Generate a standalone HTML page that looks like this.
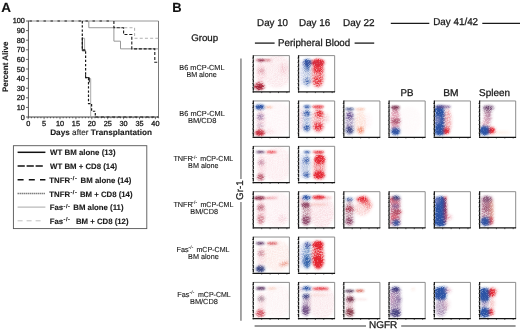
<!DOCTYPE html>
<html><head><meta charset="utf-8"><style>
html,body{margin:0;padding:0;background:#fff;}
svg{display:block;font-family:"Liberation Sans", sans-serif;text-rendering:geometricPrecision;}
text{stroke:#1a1a1a;stroke-width:0.28px;}
text[font-weight=bold]{stroke-width:0.12px;}
text[font-size="7.3"]{stroke-width:0.12px;}
</style></head><body>
<svg width="520" height="331" viewBox="0 0 520 331">
<defs><filter id="bl" x="-20%" y="-20%" width="140%" height="140%" color-interpolation-filters="sRGB">
<feGaussianBlur in="SourceGraphic" stdDeviation="1.5" result="b"/>
<feTurbulence type="fractalNoise" baseFrequency="0.83 0.97" numOctaves="2" seed="11" result="n0"/>
<feColorMatrix in="n0" type="matrix" values="0 0 0 0 0  0 0 0 0 0  0 0 0 0 0  2.2 0 0 0 -0.6" result="n"/>
<feComposite in="b" in2="n" operator="arithmetic" k1="0.7" k2="0.6" k3="0" k4="0" result="mk"/>
<feColorMatrix in="b" type="matrix" values="1 0 0 0 0  0 1 0 0 0  0 0 1 0 0  0 0 0 0 1" result="col"/>
<feComposite in="col" in2="mk" operator="in" result="c"/>
<feGaussianBlur in="c" stdDeviation="0.45" result="d"/>
<feComponentTransfer in="d"><feFuncA type="table" tableValues="0 0.13 0.32 0.56 0.8 0.95 1 1"/></feComponentTransfer>
</filter>
<filter id="bl2" x="-30%" y="-100%" width="160%" height="300%" color-interpolation-filters="sRGB">
<feGaussianBlur in="SourceGraphic" stdDeviation="1.0" result="b"/>
<feTurbulence type="fractalNoise" baseFrequency="1.2" numOctaves="1" seed="5" result="n0"/>
<feColorMatrix in="n0" type="matrix" values="0 0 0 0 0  0 0 0 0 0  0 0 0 0 0  2.2 0 0 0 -0.6" result="n"/>
<feComposite in="b" in2="n" operator="arithmetic" k1="0.5" k2="0.75" k3="0" k4="0" result="mk"/>
<feColorMatrix in="b" type="matrix" values="1 0 0 0 0  0 1 0 0 0  0 0 1 0 0  0 0 0 0 1" result="col"/>
<feComposite in="col" in2="mk" operator="in" result="c"/>
<feComponentTransfer in="c"><feFuncA type="table" tableValues="0 0.12 0.3 0.48 0.66 0.8 0.9 0.95"/></feComponentTransfer>
</filter><clipPath id="pc"><rect x="0.3" y="0.3" width="35.6" height="35.8"/></clipPath></defs>
<rect width="520" height="331" fill="#fff"/>
<g style="will-change:transform">
<line x1="28.2" y1="21.00" x2="158.5" y2="21.00" stroke="#8a8a8a" stroke-width="0.9"/>
<line x1="158.5" y1="21.00" x2="158.5" y2="117.00" stroke="#6a6a6a" stroke-width="0.9"/>
<line x1="28.4" y1="20.60" x2="28.4" y2="117.50" stroke="#555" stroke-width="1"/>
<line x1="27.9" y1="117.00" x2="158.9" y2="117.00" stroke="#444" stroke-width="1"/>
<line x1="26.0" y1="117.00" x2="28.4" y2="117.00" stroke="#555" stroke-width="0.9"/>
<text x="24.90" y="119.60" font-size="7.3" text-anchor="end" fill="#1a1a1a" style="stroke-width:0.3px">0</text>
<line x1="26.0" y1="107.40" x2="28.4" y2="107.40" stroke="#555" stroke-width="0.9"/>
<text x="24.90" y="110.00" font-size="7.3" text-anchor="end" fill="#1a1a1a" style="stroke-width:0.3px">10</text>
<line x1="26.0" y1="97.80" x2="28.4" y2="97.80" stroke="#555" stroke-width="0.9"/>
<text x="24.90" y="100.40" font-size="7.3" text-anchor="end" fill="#1a1a1a" style="stroke-width:0.3px">20</text>
<line x1="26.0" y1="88.20" x2="28.4" y2="88.20" stroke="#555" stroke-width="0.9"/>
<text x="24.90" y="90.80" font-size="7.3" text-anchor="end" fill="#1a1a1a" style="stroke-width:0.3px">30</text>
<line x1="26.0" y1="78.60" x2="28.4" y2="78.60" stroke="#555" stroke-width="0.9"/>
<text x="24.90" y="81.20" font-size="7.3" text-anchor="end" fill="#1a1a1a" style="stroke-width:0.3px">40</text>
<line x1="26.0" y1="69.00" x2="28.4" y2="69.00" stroke="#555" stroke-width="0.9"/>
<text x="24.90" y="71.60" font-size="7.3" text-anchor="end" fill="#1a1a1a" style="stroke-width:0.3px">50</text>
<line x1="26.0" y1="59.40" x2="28.4" y2="59.40" stroke="#555" stroke-width="0.9"/>
<text x="24.90" y="62.00" font-size="7.3" text-anchor="end" fill="#1a1a1a" style="stroke-width:0.3px">60</text>
<line x1="26.0" y1="49.80" x2="28.4" y2="49.80" stroke="#555" stroke-width="0.9"/>
<text x="24.90" y="52.40" font-size="7.3" text-anchor="end" fill="#1a1a1a" style="stroke-width:0.3px">70</text>
<line x1="26.0" y1="40.20" x2="28.4" y2="40.20" stroke="#555" stroke-width="0.9"/>
<text x="24.90" y="42.80" font-size="7.3" text-anchor="end" fill="#1a1a1a" style="stroke-width:0.3px">80</text>
<line x1="26.0" y1="30.60" x2="28.4" y2="30.60" stroke="#555" stroke-width="0.9"/>
<text x="24.90" y="33.20" font-size="7.3" text-anchor="end" fill="#1a1a1a" style="stroke-width:0.3px">90</text>
<line x1="26.0" y1="21.00" x2="28.4" y2="21.00" stroke="#555" stroke-width="0.9"/>
<text x="24.90" y="22.70" font-size="7.3" text-anchor="end" fill="#1a1a1a" style="stroke-width:0.3px">100</text>
<line x1="28.20" y1="117.00" x2="28.20" y2="119.20" stroke="#333" stroke-width="0.7"/>
<line x1="31.38" y1="117.00" x2="31.38" y2="118.30" stroke="#333" stroke-width="0.7"/>
<line x1="34.56" y1="117.00" x2="34.56" y2="118.30" stroke="#333" stroke-width="0.7"/>
<line x1="37.74" y1="117.00" x2="37.74" y2="118.30" stroke="#333" stroke-width="0.7"/>
<line x1="40.92" y1="117.00" x2="40.92" y2="118.30" stroke="#333" stroke-width="0.7"/>
<line x1="44.10" y1="117.00" x2="44.10" y2="119.20" stroke="#333" stroke-width="0.7"/>
<line x1="47.28" y1="117.00" x2="47.28" y2="118.30" stroke="#333" stroke-width="0.7"/>
<line x1="50.46" y1="117.00" x2="50.46" y2="118.30" stroke="#333" stroke-width="0.7"/>
<line x1="53.64" y1="117.00" x2="53.64" y2="118.30" stroke="#333" stroke-width="0.7"/>
<line x1="56.82" y1="117.00" x2="56.82" y2="118.30" stroke="#333" stroke-width="0.7"/>
<line x1="60.00" y1="117.00" x2="60.00" y2="119.20" stroke="#333" stroke-width="0.7"/>
<line x1="63.18" y1="117.00" x2="63.18" y2="118.30" stroke="#333" stroke-width="0.7"/>
<line x1="66.36" y1="117.00" x2="66.36" y2="118.30" stroke="#333" stroke-width="0.7"/>
<line x1="69.54" y1="117.00" x2="69.54" y2="118.30" stroke="#333" stroke-width="0.7"/>
<line x1="72.72" y1="117.00" x2="72.72" y2="118.30" stroke="#333" stroke-width="0.7"/>
<line x1="75.90" y1="117.00" x2="75.90" y2="119.20" stroke="#333" stroke-width="0.7"/>
<line x1="79.08" y1="117.00" x2="79.08" y2="118.30" stroke="#333" stroke-width="0.7"/>
<line x1="82.26" y1="117.00" x2="82.26" y2="118.30" stroke="#333" stroke-width="0.7"/>
<line x1="85.44" y1="117.00" x2="85.44" y2="118.30" stroke="#333" stroke-width="0.7"/>
<line x1="88.62" y1="117.00" x2="88.62" y2="118.30" stroke="#333" stroke-width="0.7"/>
<line x1="91.80" y1="117.00" x2="91.80" y2="119.20" stroke="#333" stroke-width="0.7"/>
<line x1="94.98" y1="117.00" x2="94.98" y2="118.30" stroke="#333" stroke-width="0.7"/>
<line x1="98.16" y1="117.00" x2="98.16" y2="118.30" stroke="#333" stroke-width="0.7"/>
<line x1="101.34" y1="117.00" x2="101.34" y2="118.30" stroke="#333" stroke-width="0.7"/>
<line x1="104.52" y1="117.00" x2="104.52" y2="118.30" stroke="#333" stroke-width="0.7"/>
<line x1="107.70" y1="117.00" x2="107.70" y2="119.20" stroke="#333" stroke-width="0.7"/>
<line x1="110.88" y1="117.00" x2="110.88" y2="118.30" stroke="#333" stroke-width="0.7"/>
<line x1="114.06" y1="117.00" x2="114.06" y2="118.30" stroke="#333" stroke-width="0.7"/>
<line x1="117.24" y1="117.00" x2="117.24" y2="118.30" stroke="#333" stroke-width="0.7"/>
<line x1="120.42" y1="117.00" x2="120.42" y2="118.30" stroke="#333" stroke-width="0.7"/>
<line x1="123.60" y1="117.00" x2="123.60" y2="119.20" stroke="#333" stroke-width="0.7"/>
<line x1="126.78" y1="117.00" x2="126.78" y2="118.30" stroke="#333" stroke-width="0.7"/>
<line x1="129.96" y1="117.00" x2="129.96" y2="118.30" stroke="#333" stroke-width="0.7"/>
<line x1="133.14" y1="117.00" x2="133.14" y2="118.30" stroke="#333" stroke-width="0.7"/>
<line x1="136.32" y1="117.00" x2="136.32" y2="118.30" stroke="#333" stroke-width="0.7"/>
<line x1="139.50" y1="117.00" x2="139.50" y2="119.20" stroke="#333" stroke-width="0.7"/>
<line x1="142.68" y1="117.00" x2="142.68" y2="118.30" stroke="#333" stroke-width="0.7"/>
<line x1="145.86" y1="117.00" x2="145.86" y2="118.30" stroke="#333" stroke-width="0.7"/>
<line x1="149.04" y1="117.00" x2="149.04" y2="118.30" stroke="#333" stroke-width="0.7"/>
<line x1="152.22" y1="117.00" x2="152.22" y2="118.30" stroke="#333" stroke-width="0.7"/>
<line x1="155.40" y1="117.00" x2="155.40" y2="119.20" stroke="#333" stroke-width="0.7"/>
<line x1="158.58" y1="117.00" x2="158.58" y2="118.30" stroke="#333" stroke-width="0.7"/>
<text x="28.20" y="125.80" font-size="7.3" text-anchor="middle" fill="#1a1a1a" style="stroke-width:0.3px">0</text>
<text x="44.10" y="125.80" font-size="7.3" text-anchor="middle" fill="#1a1a1a" style="stroke-width:0.3px">5</text>
<text x="60.00" y="125.80" font-size="7.3" text-anchor="middle" fill="#1a1a1a" style="stroke-width:0.3px">10</text>
<text x="75.90" y="125.80" font-size="7.3" text-anchor="middle" fill="#1a1a1a" style="stroke-width:0.3px">15</text>
<text x="91.80" y="125.80" font-size="7.3" text-anchor="middle" fill="#1a1a1a" style="stroke-width:0.3px">20</text>
<text x="107.70" y="125.80" font-size="7.3" text-anchor="middle" fill="#1a1a1a" style="stroke-width:0.3px">25</text>
<text x="123.60" y="125.80" font-size="7.3" text-anchor="middle" fill="#1a1a1a" style="stroke-width:0.3px">30</text>
<text x="139.50" y="125.80" font-size="7.3" text-anchor="middle" fill="#1a1a1a" style="stroke-width:0.3px">35</text>
<text x="155.40" y="125.80" font-size="7.3" text-anchor="middle" fill="#1a1a1a" style="stroke-width:0.3px">40</text>
<line x1="29.5" y1="21.00" x2="113.5" y2="21.00" stroke="#1a1a1a" stroke-width="1.1" stroke-dasharray="2.4,4.6"/>
<line x1="95.3" y1="117.00" x2="158" y2="117.00" stroke="#1a1a1a" stroke-width="1.2" stroke-dasharray="3,2.6"/>
<path d="M113.9,27.72 H134.6 V38.28 H158.5" fill="none" stroke="#a8a8a8" stroke-width="0.9" stroke-dasharray="3,2.2"/>
<path d="M88.8,21.00 V27.72 H113.9 V41.16 H120.5 V48.84 H158.5" fill="none" stroke="#8c8c8c" stroke-width="0.9"/>
<path d="M82.3,38.28 H84.6 V49.80 M89.6,78.60 H90.7 V117.00" fill="none" stroke="#a0a0a0" stroke-width="0.9"/>
<path d="M113.9,21.00 V27.72 H123.6 V34.44 H131.8 V48.84 H154.8 V62.28 H158.5" fill="none" stroke="#1a1a1a" stroke-width="1.1" stroke-dasharray="3,1.8"/>
<path d="M82.3,21.00 V49.80 H85.6 V77.64 H88.5 V103.56 H91.6 V111.24 H95.3 V117.00" fill="none" stroke="#1a1a1a" stroke-width="1.2" stroke-dasharray="2.4,1.8"/>
<path d="M82.3,37.32 V50.76 H85.6 M85.6,74.76 V77.64 H89.3 V82.44" fill="none" stroke="#1a1a1a" stroke-width="1.0"/>
<text transform="translate(8.2,66.85) rotate(-90)" x="0" y="0" font-size="8" font-weight="bold" text-anchor="middle" fill="#1a1a1a">Percent Alive</text>
<rect x="13.4" y="145.7" width="133.4" height="82.9" fill="none" stroke="#555" stroke-width="0.9"/>
<line x1="17.6" y1="152.30" x2="45.4" y2="152.30" stroke="#111" stroke-width="1.5"/>
<line x1="17.6" y1="166.00" x2="42.8" y2="166.00" stroke="#111" stroke-width="1.6" stroke-dasharray="7.2,1.8"/>
<line x1="17.6" y1="179.70" x2="45.4" y2="179.70" stroke="#111" stroke-width="1.6" stroke-dasharray="6,5.2"/>
<line x1="17.6" y1="193.40" x2="45.4" y2="193.40" stroke="#606060" stroke-width="1.5" stroke-dasharray="1.2,0.8"/>
<line x1="17.6" y1="207.10" x2="45.4" y2="207.10" stroke="#a8a8a8" stroke-width="1.0"/>
<line x1="17.6" y1="220.80" x2="41.2" y2="220.80" stroke="#c0c0c0" stroke-width="1.0" stroke-dasharray="5,4"/>
<text y="182.80" font-size="7.8" font-weight="bold" fill="#1a1a1a"><tspan x="49.3">TNFR</tspan><tspan x="70.4" dy="-2.7" font-size="5.6" letter-spacing="0.55">-/-</tspan><tspan x="80.6" dy="2.7">BM alone (14)</tspan></text>
<text y="196.50" font-size="7.8" font-weight="bold" fill="#1a1a1a"><tspan x="49.3">TNFR</tspan><tspan x="70.4" dy="-2.7" font-size="5.6" letter-spacing="0.55">-/-</tspan><tspan x="79.9" dy="2.7">BM + CD8 (14)</tspan></text>
<text y="210.20" font-size="7.8" font-weight="bold" fill="#1a1a1a"><tspan x="49.7">Fas</tspan><tspan x="63.6" dy="-2.7" font-size="5.6" letter-spacing="0.55">-/-</tspan><tspan x="73.3" dy="2.7">BM alone (11)</tspan></text>
<text y="223.90" font-size="7.8" font-weight="bold" fill="#1a1a1a"><tspan x="49.7">Fas</tspan><tspan x="63.6" dy="-2.7" font-size="5.6" letter-spacing="0.55">-/-</tspan><tspan x="75.9" dy="2.7">BM + CD8 (12)</tspan></text>
<text transform="translate(243.15,190.2) rotate(-90)" x="0" y="0" font-size="9.75" text-anchor="middle" fill="#1a1a1a">Gr-1</text>
<line x1="390.8" y1="23.3" x2="429.3" y2="23.3" stroke="#1a1a1a" stroke-width="1.3"/>
<line x1="482.3" y1="23.3" x2="520" y2="23.3" stroke="#1a1a1a" stroke-width="1.3"/>
<line x1="254.9" y1="43.1" x2="274.6" y2="43.1" stroke="#1a1a1a" stroke-width="1.3"/>
<line x1="354.6" y1="43.1" x2="374.2" y2="43.1" stroke="#1a1a1a" stroke-width="1.3"/>
<line x1="254.6" y1="326.0" x2="366" y2="326.0" stroke="#777" stroke-width="1.4"/>
<line x1="401.2" y1="326.0" x2="515.6" y2="326.0" stroke="#777" stroke-width="1.4"/>
<line x1="240.95" y1="58.5" x2="240.95" y2="179" stroke="#7a7a7a" stroke-width="1.35"/>
<line x1="240.95" y1="201.9" x2="240.95" y2="320.8" stroke="#7a7a7a" stroke-width="1.35"/>
<text y="161.10" font-size="7.3" fill="#1a1a1a"><tspan x="173.4">TNFR</tspan><tspan x="192.1" dy="-2.6" font-size="4.6" letter-spacing="0.3">-/-</tspan></text>
<text y="206.50" font-size="7.3" fill="#1a1a1a"><tspan x="173.4">TNFR</tspan><tspan x="192.1" dy="-2.6" font-size="4.6" letter-spacing="0.3">-/-</tspan></text>
<text y="251.80" font-size="7.3" fill="#1a1a1a"><tspan x="176.5">Fas</tspan><tspan x="188.4" dy="-2.6" font-size="4.6" letter-spacing="0.3">-/-</tspan></text>
<text y="296.80" font-size="7.3" fill="#1a1a1a"><tspan x="177.2">Fas</tspan><tspan x="189.4" dy="-2.6" font-size="4.6" letter-spacing="0.3">-/-</tspan></text>
<text id="t_A" x="1.18" y="11.75" font-size="13.2" font-weight="bold" textLength="9.77" lengthAdjust="spacingAndGlyphs" fill="#111">A</text>
<text id="t_B" x="172.37" y="11.75" font-size="13.2" font-weight="bold" textLength="9.35" lengthAdjust="spacingAndGlyphs" fill="#111">B</text>
<text id="t_Group" x="191.20" y="40.60" font-size="9.5" textLength="26.95" lengthAdjust="spacingAndGlyphs" fill="#1a1a1a">Group</text>
<text id="t_Day10" x="257.11" y="25.50" font-size="10.0" textLength="30.87" lengthAdjust="spacingAndGlyphs" fill="#1a1a1a">Day 10</text>
<text id="t_Day16" x="299.04" y="25.50" font-size="10.0" textLength="31.19" lengthAdjust="spacingAndGlyphs" fill="#1a1a1a">Day 16</text>
<text id="t_Day22" x="343.06" y="25.50" font-size="10.0" textLength="31.57" lengthAdjust="spacingAndGlyphs" fill="#1a1a1a">Day 22</text>
<text id="t_Day41" x="433.24" y="25.30" font-size="10.0" textLength="44.85" lengthAdjust="spacingAndGlyphs" fill="#1a1a1a">Day 41/42</text>
<text id="t_PerBl" x="278.12" y="46.20" font-size="9.9" textLength="72.09" lengthAdjust="spacingAndGlyphs" fill="#1a1a1a">Peripheral Blood</text>
<text id="t_PB" x="400.46" y="95.60" font-size="9.9" textLength="12.96" lengthAdjust="spacingAndGlyphs" fill="#1a1a1a">PB</text>
<text id="t_BM" x="443.27" y="95.60" font-size="9.9" textLength="15.34" lengthAdjust="spacingAndGlyphs" fill="#1a1a1a">BM</text>
<text id="t_Spleen" x="479.10" y="95.60" font-size="9.9" textLength="30.86" lengthAdjust="spacingAndGlyphs" fill="#1a1a1a">Spleen</text>
<text id="t_NGFR" x="369.04" y="328.20" font-size="9.8" textLength="28.25" lengthAdjust="spacingAndGlyphs" fill="#1a1a1a">NGFR</text>
<text id="t_Days" x="50.17" y="135.00" font-size="8.1" font-weight="bold" textLength="101.92" lengthAdjust="spacingAndGlyphs" fill="#1a1a1a">Days <tspan font-weight="normal">after</tspan> Transplantation</text>
<text id="t_L1" x="50.08" y="155.40" font-size="7.8" font-weight="bold" textLength="65.54" lengthAdjust="spacingAndGlyphs" fill="#1a1a1a">WT BM alone (13)</text>
<text id="t_L2" x="50.07" y="169.10" font-size="7.8" font-weight="bold" textLength="67.07" lengthAdjust="spacingAndGlyphs" fill="#1a1a1a">WT BM + CD8 (14)</text>
<text id="t_G0a" x="179.35" y="70.10" font-size="7.3" textLength="45.22" lengthAdjust="spacingAndGlyphs" fill="#1a1a1a">B6 mCP-CML</text>
<text id="t_G0b" x="186.42" y="77.20" font-size="7.3" textLength="30.20" lengthAdjust="spacingAndGlyphs" fill="#1a1a1a">BM alone</text>
<text id="t_G1a" x="179.38" y="116.00" font-size="7.3" textLength="45.39" lengthAdjust="spacingAndGlyphs" fill="#1a1a1a">B6 mCP-CML</text>
<text id="t_G1b" x="187.92" y="122.50" font-size="7.3" textLength="28.50" lengthAdjust="spacingAndGlyphs" fill="#1a1a1a">BM/CD8</text>
<text id="t_G2b" x="188.07" y="168.10" font-size="7.3" textLength="30.57" lengthAdjust="spacingAndGlyphs" fill="#1a1a1a">BM alone</text>
<text id="t_G3b" x="190.31" y="213.50" font-size="7.3" textLength="27.75" lengthAdjust="spacingAndGlyphs" fill="#1a1a1a">BM/CD8</text>
<text id="t_G4b" x="188.07" y="258.80" font-size="7.3" textLength="30.65" lengthAdjust="spacingAndGlyphs" fill="#1a1a1a">BM alone</text>
<text id="t_G5b" x="189.95" y="303.50" font-size="7.3" textLength="27.98" lengthAdjust="spacingAndGlyphs" fill="#1a1a1a">BM/CD8</text>
<text id="t_G2m" x="200.26" y="161.10" font-size="7.3" textLength="32.96" lengthAdjust="spacingAndGlyphs" fill="#1a1a1a">mCP-CML</text>
<text id="t_G3m" x="200.45" y="206.50" font-size="7.3" textLength="32.96" lengthAdjust="spacingAndGlyphs" fill="#1a1a1a">mCP-CML</text>
<text id="t_G4m" x="196.42" y="251.80" font-size="7.3" textLength="33.13" lengthAdjust="spacingAndGlyphs" fill="#1a1a1a">mCP-CML</text>
<text id="t_G5m" x="197.98" y="296.80" font-size="7.3" textLength="32.77" lengthAdjust="spacingAndGlyphs" fill="#1a1a1a">mCP-CML</text>
<g transform="translate(253.30,55.60)"><g clip-path="url(#pc)"><g filter="url(#bl)"><ellipse cx="7" cy="17" rx="4.5" ry="12" fill="#f6ccd4" fill-opacity="0.45"/><ellipse cx="24" cy="16" rx="15" ry="17" fill="#f6ccd4" fill-opacity="0.3"/><ellipse cx="30" cy="14" rx="4" ry="6" fill="#f0a8b4" fill-opacity="0.18"/><ellipse cx="8" cy="15.3" rx="3" ry="2.2" fill="#c06878" fill-opacity="0.35"/><ellipse cx="6" cy="30.8" rx="5.5" ry="3.8" fill="#b82a3c" fill-opacity="0.7"/><ellipse cx="6" cy="31.5" rx="3.5" ry="2.2" fill="#9a1c34" fill-opacity="0.7"/></g><g filter="url(#bl2)"><ellipse cx="10" cy="4.7" rx="8.5" ry="1.0" fill="#b82a3c" fill-opacity="0.7"/><ellipse cx="7.5" cy="4.7" rx="3.5" ry="1.1" fill="#8a2442" fill-opacity="1.0"/></g></g><path d="M0,0 H36.1 V36.3" fill="none" stroke="#808080" stroke-width="0.9"/><line x1="0" y1="-0.4" x2="0" y2="36.9" stroke="#151515" stroke-width="1.25" stroke-dasharray="3.6,0.4"/><line x1="-0.6" y1="36.3" x2="36.5" y2="36.3" stroke="#151515" stroke-width="1.25"/><path d="M-1.1,32.1h1.1M-1.1,27.9h1.1M-1.1,23.6h1.1M-1.1,19.4h1.1M-1.1,15.2h1.1M-1.1,11.0h1.1M-1.1,6.8h1.1M-1.1,2.5h1.1M8.4,36.3v1.2M16.8,36.3v1.2M25.2,36.3v1.2M33.6,36.3v1.2" stroke="#151515" stroke-width="0.7"/></g>
<g transform="translate(298.56,55.60)"><g clip-path="url(#pc)"><g filter="url(#bl)"><ellipse cx="2.6" cy="18" rx="1.8" ry="14" fill="#c8cce8" fill-opacity="0.45"/><ellipse cx="8.7" cy="20" rx="3.8" ry="12" fill="#2a52a4" fill-opacity="0.25"/><ellipse cx="19.5" cy="20" rx="6.3" ry="12" fill="#e42430" fill-opacity="0.35"/><ellipse cx="8.8" cy="6.8" rx="3.6" ry="3.2" fill="#2a52a4" fill-opacity="1.0"/><ellipse cx="19.5" cy="6.8" rx="6.6" ry="3.2" fill="#e42430" fill-opacity="1.0"/><ellipse cx="8.5" cy="12" rx="3.5" ry="4" fill="#2a52a4" fill-opacity="0.35"/><ellipse cx="19.5" cy="13" rx="6" ry="5" fill="#e42430" fill-opacity="0.45"/><ellipse cx="8.5" cy="26" rx="3.5" ry="3.5" fill="#2a52a4" fill-opacity="0.35"/><ellipse cx="19" cy="26" rx="5.5" ry="6" fill="#e42430" fill-opacity="0.3"/><ellipse cx="14" cy="7.5" rx="12" ry="0.8" fill="#8a6a9a" fill-opacity="0.35"/></g></g><path d="M0,0 H36.1 V36.3" fill="none" stroke="#808080" stroke-width="0.9"/><line x1="0" y1="-0.4" x2="0" y2="36.9" stroke="#151515" stroke-width="1.25" stroke-dasharray="3.6,0.4"/><line x1="-0.6" y1="36.3" x2="36.5" y2="36.3" stroke="#151515" stroke-width="1.25"/><path d="M-1.1,32.1h1.1M-1.1,27.9h1.1M-1.1,23.6h1.1M-1.1,19.4h1.1M-1.1,15.2h1.1M-1.1,11.0h1.1M-1.1,6.8h1.1M-1.1,2.5h1.1M8.4,36.3v1.2M16.8,36.3v1.2M25.2,36.3v1.2M33.6,36.3v1.2" stroke="#151515" stroke-width="0.7"/></g>
<g transform="translate(253.30,100.96)"><g clip-path="url(#pc)"><g filter="url(#bl)"><ellipse cx="7" cy="20" rx="4.5" ry="12" fill="#f6ccd4" fill-opacity="0.45"/><ellipse cx="6.5" cy="6" rx="4.8" ry="2.2" fill="#2a52a4" fill-opacity="0.95"/><ellipse cx="7" cy="15.8" rx="3.2" ry="2.8" fill="#6a5090" fill-opacity="0.45"/><ellipse cx="7" cy="24.5" rx="3" ry="2.2" fill="#a898b8" fill-opacity="0.35"/><ellipse cx="6.5" cy="32" rx="5" ry="3" fill="#c42a3a" fill-opacity="0.85"/><ellipse cx="16" cy="31" rx="5" ry="3" fill="#f6ccd4" fill-opacity="0.3"/><ellipse cx="24" cy="18" rx="15" ry="17" fill="#f6ccd4" fill-opacity="0.15"/></g><g filter="url(#bl2)"><ellipse cx="15.5" cy="6.2" rx="4" ry="1.0" fill="#f4a080" fill-opacity="0.65"/></g></g><path d="M0,0 H36.1 V36.3" fill="none" stroke="#808080" stroke-width="0.9"/><line x1="0" y1="-0.4" x2="0" y2="36.9" stroke="#151515" stroke-width="1.25" stroke-dasharray="3.6,0.4"/><line x1="-0.6" y1="36.3" x2="36.5" y2="36.3" stroke="#151515" stroke-width="1.25"/><path d="M-1.1,32.1h1.1M-1.1,27.9h1.1M-1.1,23.6h1.1M-1.1,19.4h1.1M-1.1,15.2h1.1M-1.1,11.0h1.1M-1.1,6.8h1.1M-1.1,2.5h1.1M8.4,36.3v1.2M16.8,36.3v1.2M25.2,36.3v1.2M33.6,36.3v1.2" stroke="#151515" stroke-width="0.7"/></g>
<g transform="translate(298.56,100.96)"><g clip-path="url(#pc)"><g filter="url(#bl)"><ellipse cx="2.5" cy="18" rx="1.8" ry="14" fill="#e4c0d0" fill-opacity="0.45"/><ellipse cx="8.5" cy="19" rx="3.8" ry="13" fill="#2a52a4" fill-opacity="0.28"/><ellipse cx="19.5" cy="19" rx="6" ry="13" fill="#e42430" fill-opacity="0.28"/><ellipse cx="8.3" cy="12.3" rx="3.5" ry="2.3" fill="#2a52a4" fill-opacity="0.55"/><ellipse cx="8.3" cy="27.2" rx="3.5" ry="2.8" fill="#2a52a4" fill-opacity="0.55"/><ellipse cx="21" cy="12.8" rx="4" ry="3" fill="#e42430" fill-opacity="0.55"/><ellipse cx="20" cy="26" rx="5.5" ry="4" fill="#e42430" fill-opacity="0.45"/><ellipse cx="28" cy="17.5" rx="3" ry="5" fill="#f0a8b4" fill-opacity="0.3"/></g><g filter="url(#bl2)"><ellipse cx="8.5" cy="5.8" rx="3.5" ry="1.4" fill="#2a52a4" fill-opacity="0.9"/><ellipse cx="19.5" cy="5.8" rx="6.2" ry="1.3" fill="#e42430" fill-opacity="0.9"/></g></g><path d="M0,0 H36.1 V36.3" fill="none" stroke="#808080" stroke-width="0.9"/><line x1="0" y1="-0.4" x2="0" y2="36.9" stroke="#151515" stroke-width="1.25" stroke-dasharray="3.6,0.4"/><line x1="-0.6" y1="36.3" x2="36.5" y2="36.3" stroke="#151515" stroke-width="1.25"/><path d="M-1.1,32.1h1.1M-1.1,27.9h1.1M-1.1,23.6h1.1M-1.1,19.4h1.1M-1.1,15.2h1.1M-1.1,11.0h1.1M-1.1,6.8h1.1M-1.1,2.5h1.1M8.4,36.3v1.2M16.8,36.3v1.2M25.2,36.3v1.2M33.6,36.3v1.2" stroke="#151515" stroke-width="0.7"/></g>
<g transform="translate(343.82,100.96)"><g clip-path="url(#pc)"><g filter="url(#bl)"><ellipse cx="5.8" cy="21" rx="4.6" ry="12.5" fill="#6a5090" fill-opacity="0.35"/><ellipse cx="16.5" cy="21" rx="5.5" ry="12.5" fill="#f4a080" fill-opacity="0.22"/><ellipse cx="5.8" cy="14.5" rx="3.8" ry="3" fill="#6a5090" fill-opacity="0.5"/><ellipse cx="5.8" cy="29.5" rx="4.2" ry="3.8" fill="#32407e" fill-opacity="0.55"/><ellipse cx="16.8" cy="29.5" rx="3.4" ry="3.2" fill="#f08060" fill-opacity="0.5"/><ellipse cx="24" cy="20" rx="4" ry="8" fill="#f6ccd4" fill-opacity="0.15"/></g><g filter="url(#bl2)"><ellipse cx="5.8" cy="8" rx="4.6" ry="1.0" fill="#32407e" fill-opacity="0.95"/><ellipse cx="16.5" cy="8.2" rx="5" ry="0.9" fill="#f4a080" fill-opacity="0.7"/></g></g><path d="M0,0 H36.1 V36.3" fill="none" stroke="#808080" stroke-width="0.9"/><line x1="0" y1="-0.4" x2="0" y2="36.9" stroke="#151515" stroke-width="1.25" stroke-dasharray="3.6,0.4"/><line x1="-0.6" y1="36.3" x2="36.5" y2="36.3" stroke="#151515" stroke-width="1.25"/><path d="M-1.1,32.1h1.1M-1.1,27.9h1.1M-1.1,23.6h1.1M-1.1,19.4h1.1M-1.1,15.2h1.1M-1.1,11.0h1.1M-1.1,6.8h1.1M-1.1,2.5h1.1M8.4,36.3v1.2M16.8,36.3v1.2M25.2,36.3v1.2M33.6,36.3v1.2" stroke="#151515" stroke-width="0.7"/></g>
<g transform="translate(389.08,100.96)"><g clip-path="url(#pc)"><g filter="url(#bl)"><ellipse cx="6" cy="20" rx="4.8" ry="13.5" fill="#e0a0b4" fill-opacity="0.65"/><ellipse cx="6.5" cy="8.5" rx="4" ry="1.5" fill="#b06080" fill-opacity="0.5"/><ellipse cx="7" cy="20.4" rx="4.2" ry="2" fill="#8a2442" fill-opacity="0.65"/><ellipse cx="6.5" cy="30.5" rx="4.2" ry="3.4" fill="#2a52a4" fill-opacity="0.95"/><ellipse cx="20" cy="20" rx="12" ry="14" fill="#f6ccd4" fill-opacity="0.1"/></g><g filter="url(#bl2)"><ellipse cx="6.3" cy="6.4" rx="4.5" ry="1.5" fill="#7a3050" fill-opacity="1.0"/></g></g><path d="M0,0 H36.1 V36.3" fill="none" stroke="#808080" stroke-width="0.9"/><line x1="0" y1="-0.4" x2="0" y2="36.9" stroke="#151515" stroke-width="1.25" stroke-dasharray="3.6,0.4"/><line x1="-0.6" y1="36.3" x2="36.5" y2="36.3" stroke="#151515" stroke-width="1.25"/><path d="M-1.1,32.1h1.1M-1.1,27.9h1.1M-1.1,23.6h1.1M-1.1,19.4h1.1M-1.1,15.2h1.1M-1.1,11.0h1.1M-1.1,6.8h1.1M-1.1,2.5h1.1M8.4,36.3v1.2M16.8,36.3v1.2M25.2,36.3v1.2M33.6,36.3v1.2" stroke="#151515" stroke-width="0.7"/></g>
<g transform="translate(434.34,100.96)"><g clip-path="url(#pc)"><g filter="url(#bl)"><rect x="0.90" y="4.80" width="8.60" height="29.60" rx="2.15" fill="#2a52a4" fill-opacity="0.9"/><ellipse cx="3.5" cy="19" rx="2.5" ry="4" fill="#c0b0d8" fill-opacity="0.5"/><ellipse cx="13.5" cy="20" rx="3.8" ry="13" fill="#e88890" fill-opacity="0.45"/><ellipse cx="12" cy="30" rx="2.6" ry="3" fill="#e42430" fill-opacity="0.9"/></g><g filter="url(#bl2)"><ellipse cx="9" cy="5.8" rx="8" ry="1.3" fill="#6a4a88" fill-opacity="0.8"/></g></g><path d="M0,0 H36.1 V36.3" fill="none" stroke="#808080" stroke-width="0.9"/><line x1="0" y1="-0.4" x2="0" y2="36.9" stroke="#151515" stroke-width="1.25" stroke-dasharray="3.6,0.4"/><line x1="-0.6" y1="36.3" x2="36.5" y2="36.3" stroke="#151515" stroke-width="1.25"/><path d="M-1.1,32.1h1.1M-1.1,27.9h1.1M-1.1,23.6h1.1M-1.1,19.4h1.1M-1.1,15.2h1.1M-1.1,11.0h1.1M-1.1,6.8h1.1M-1.1,2.5h1.1M8.4,36.3v1.2M16.8,36.3v1.2M25.2,36.3v1.2M33.6,36.3v1.2" stroke="#151515" stroke-width="0.7"/></g>
<g transform="translate(479.60,100.96)"><g clip-path="url(#pc)"><g filter="url(#bl)"><ellipse cx="8.8" cy="6.6" rx="6" ry="2.0" fill="#5a3060" fill-opacity="0.75"/><ellipse cx="8" cy="10.5" rx="4.5" ry="2.5" fill="#9a6a8a" fill-opacity="0.5"/><ellipse cx="8" cy="17" rx="4.2" ry="5.5" fill="#d0a0b8" fill-opacity="0.6"/><ellipse cx="9" cy="15" rx="2" ry="2" fill="#8a5a80" fill-opacity="0.35"/><ellipse cx="6.5" cy="23" rx="5" ry="3.5" fill="#e0a8b8" fill-opacity="0.5"/><ellipse cx="5.2" cy="29.8" rx="5" ry="4.6" fill="#2a52a4" fill-opacity="0.95"/><ellipse cx="12.3" cy="29.5" rx="3" ry="3.2" fill="#e42430" fill-opacity="0.85"/><ellipse cx="22" cy="31.5" rx="9" ry="1.3" fill="#f8c0a0" fill-opacity="0.3"/></g></g><path d="M0,0 H36.1 V36.3" fill="none" stroke="#808080" stroke-width="0.9"/><line x1="0" y1="-0.4" x2="0" y2="36.9" stroke="#151515" stroke-width="1.25" stroke-dasharray="3.6,0.4"/><line x1="-0.6" y1="36.3" x2="36.5" y2="36.3" stroke="#151515" stroke-width="1.25"/><path d="M-1.1,32.1h1.1M-1.1,27.9h1.1M-1.1,23.6h1.1M-1.1,19.4h1.1M-1.1,15.2h1.1M-1.1,11.0h1.1M-1.1,6.8h1.1M-1.1,2.5h1.1M8.4,36.3v1.2M16.8,36.3v1.2M25.2,36.3v1.2M33.6,36.3v1.2" stroke="#151515" stroke-width="0.7"/></g>
<g transform="translate(253.30,146.32)"><g clip-path="url(#pc)"><g filter="url(#bl)"><ellipse cx="7.5" cy="20" rx="3.8" ry="13" fill="#f6ccd4" fill-opacity="0.45"/><ellipse cx="8" cy="16.1" rx="3" ry="2.2" fill="#b07896" fill-opacity="0.55"/><ellipse cx="7.3" cy="31" rx="3.6" ry="3.2" fill="#b04a60" fill-opacity="0.65"/><ellipse cx="24" cy="18" rx="15" ry="18" fill="#f6ccd4" fill-opacity="0.25"/></g><g filter="url(#bl2)"><ellipse cx="7" cy="5.8" rx="4.5" ry="1.0" fill="#5a3060" fill-opacity="0.95"/><ellipse cx="18" cy="5.8" rx="5.8" ry="1.0" fill="#e42430" fill-opacity="0.9"/></g></g><path d="M0,0 H36.1 V36.3" fill="none" stroke="#808080" stroke-width="0.9"/><line x1="0" y1="-0.4" x2="0" y2="36.9" stroke="#151515" stroke-width="1.25" stroke-dasharray="3.6,0.4"/><line x1="-0.6" y1="36.3" x2="36.5" y2="36.3" stroke="#151515" stroke-width="1.25"/><path d="M-1.1,32.1h1.1M-1.1,27.9h1.1M-1.1,23.6h1.1M-1.1,19.4h1.1M-1.1,15.2h1.1M-1.1,11.0h1.1M-1.1,6.8h1.1M-1.1,2.5h1.1M8.4,36.3v1.2M16.8,36.3v1.2M25.2,36.3v1.2M33.6,36.3v1.2" stroke="#151515" stroke-width="0.7"/></g>
<g transform="translate(298.56,146.32)"><g clip-path="url(#pc)"><g filter="url(#bl)"><ellipse cx="2.5" cy="19" rx="2" ry="14" fill="#c0c8e8" fill-opacity="0.4"/><ellipse cx="8" cy="19" rx="4" ry="13" fill="#2a52a4" fill-opacity="0.26"/><ellipse cx="20.5" cy="20" rx="6.5" ry="13" fill="#e42430" fill-opacity="0.32"/><ellipse cx="8" cy="14" rx="3.3" ry="2.8" fill="#2a52a4" fill-opacity="0.45"/><ellipse cx="8" cy="29" rx="3.5" ry="3" fill="#2a52a4" fill-opacity="0.5"/><ellipse cx="21.5" cy="13" rx="5.5" ry="4.5" fill="#e42430" fill-opacity="0.72"/><ellipse cx="20.5" cy="29" rx="6" ry="4" fill="#e42430" fill-opacity="0.72"/></g><g filter="url(#bl2)"><ellipse cx="8.5" cy="5.8" rx="3.5" ry="1.1" fill="#2a52a4" fill-opacity="0.95"/><ellipse cx="20" cy="5.8" rx="6" ry="1.1" fill="#e42430" fill-opacity="1.0"/></g></g><path d="M0,0 H36.1 V36.3" fill="none" stroke="#808080" stroke-width="0.9"/><line x1="0" y1="-0.4" x2="0" y2="36.9" stroke="#151515" stroke-width="1.25" stroke-dasharray="3.6,0.4"/><line x1="-0.6" y1="36.3" x2="36.5" y2="36.3" stroke="#151515" stroke-width="1.25"/><path d="M-1.1,32.1h1.1M-1.1,27.9h1.1M-1.1,23.6h1.1M-1.1,19.4h1.1M-1.1,15.2h1.1M-1.1,11.0h1.1M-1.1,6.8h1.1M-1.1,2.5h1.1M8.4,36.3v1.2M16.8,36.3v1.2M25.2,36.3v1.2M33.6,36.3v1.2" stroke="#151515" stroke-width="0.7"/></g>
<g transform="translate(253.30,191.68)"><g clip-path="url(#pc)"><g filter="url(#bl)"><ellipse cx="7.5" cy="20" rx="4.2" ry="13" fill="#f6ccd4" fill-opacity="0.5"/><ellipse cx="7.5" cy="15.8" rx="3.4" ry="2.6" fill="#a03c54" fill-opacity="0.55"/><ellipse cx="7.5" cy="28" rx="3.6" ry="5" fill="#c06070" fill-opacity="0.45"/><ellipse cx="29" cy="27" rx="4" ry="4" fill="#f6ccd4" fill-opacity="0.3"/><ellipse cx="24" cy="18" rx="15" ry="18" fill="#f6ccd4" fill-opacity="0.22"/></g><g filter="url(#bl2)"><ellipse cx="16" cy="6.3" rx="9" ry="1.1" fill="#e05868" fill-opacity="0.55"/><ellipse cx="6" cy="6.3" rx="5.5" ry="1.7" fill="#8a2442" fill-opacity="0.95"/></g></g><path d="M0,0 H36.1 V36.3" fill="none" stroke="#808080" stroke-width="0.9"/><line x1="0" y1="-0.4" x2="0" y2="36.9" stroke="#151515" stroke-width="1.25" stroke-dasharray="3.6,0.4"/><line x1="-0.6" y1="36.3" x2="36.5" y2="36.3" stroke="#151515" stroke-width="1.25"/><path d="M-1.1,32.1h1.1M-1.1,27.9h1.1M-1.1,23.6h1.1M-1.1,19.4h1.1M-1.1,15.2h1.1M-1.1,11.0h1.1M-1.1,6.8h1.1M-1.1,2.5h1.1M8.4,36.3v1.2M16.8,36.3v1.2M25.2,36.3v1.2M33.6,36.3v1.2" stroke="#151515" stroke-width="0.7"/></g>
<g transform="translate(298.56,191.68)"><g clip-path="url(#pc)"><g filter="url(#bl)"><ellipse cx="2.5" cy="8" rx="2" ry="3" fill="#f0a8b4" fill-opacity="0.45"/><ellipse cx="7.5" cy="22" rx="4.3" ry="12" fill="#a86880" fill-opacity="0.4"/><ellipse cx="23" cy="20" rx="13" ry="17" fill="#f6ccd4" fill-opacity="0.35"/><ellipse cx="8" cy="5.8" rx="4.3" ry="2" fill="#2a52a4" fill-opacity="0.95"/><ellipse cx="7" cy="13.2" rx="4.3" ry="2.4" fill="#8a3c5c" fill-opacity="0.8"/><ellipse cx="7.5" cy="29" rx="4.2" ry="4.5" fill="#8a4468" fill-opacity="0.65"/></g><g filter="url(#bl2)"><ellipse cx="20" cy="5.5" rx="6.5" ry="1.8" fill="#e42430" fill-opacity="0.95"/><ellipse cx="29" cy="5.8" rx="5" ry="0.8" fill="#e42430" fill-opacity="0.4"/><ellipse cx="20" cy="12.9" rx="10" ry="0.9" fill="#f08878" fill-opacity="0.45"/></g></g><path d="M0,0 H36.1 V36.3" fill="none" stroke="#808080" stroke-width="0.9"/><line x1="0" y1="-0.4" x2="0" y2="36.9" stroke="#151515" stroke-width="1.25" stroke-dasharray="3.6,0.4"/><line x1="-0.6" y1="36.3" x2="36.5" y2="36.3" stroke="#151515" stroke-width="1.25"/><path d="M-1.1,32.1h1.1M-1.1,27.9h1.1M-1.1,23.6h1.1M-1.1,19.4h1.1M-1.1,15.2h1.1M-1.1,11.0h1.1M-1.1,6.8h1.1M-1.1,2.5h1.1M8.4,36.3v1.2M16.8,36.3v1.2M25.2,36.3v1.2M33.6,36.3v1.2" stroke="#151515" stroke-width="0.7"/></g>
<g transform="translate(343.82,191.68)"><g clip-path="url(#pc)"><g filter="url(#bl)"><ellipse cx="5.5" cy="21" rx="4.5" ry="12.5" fill="#a06078" fill-opacity="0.4"/><ellipse cx="19" cy="16" rx="9" ry="8" fill="#f09090" fill-opacity="0.28" transform="rotate(-30 19 16)"/><ellipse cx="5.5" cy="7.6" rx="4.3" ry="1.3" fill="#3a5aa0" fill-opacity="0.85"/><ellipse cx="17.5" cy="6.8" rx="5.5" ry="1.8" fill="#e42430" fill-opacity="0.8" transform="rotate(-10 17.5 6.8)"/><ellipse cx="21" cy="9" rx="5" ry="3" fill="#e42430" fill-opacity="0.45" transform="rotate(-20 21 9)"/><ellipse cx="25" cy="13" rx="4" ry="4" fill="#f07070" fill-opacity="0.3"/><ellipse cx="5.5" cy="17.2" rx="4" ry="2.4" fill="#b03048" fill-opacity="0.6"/><ellipse cx="5.5" cy="30" rx="4.3" ry="3.8" fill="#8a4468" fill-opacity="0.5"/></g></g><path d="M0,0 H36.1 V36.3" fill="none" stroke="#808080" stroke-width="0.9"/><line x1="0" y1="-0.4" x2="0" y2="36.9" stroke="#151515" stroke-width="1.25" stroke-dasharray="3.6,0.4"/><line x1="-0.6" y1="36.3" x2="36.5" y2="36.3" stroke="#151515" stroke-width="1.25"/><path d="M-1.1,32.1h1.1M-1.1,27.9h1.1M-1.1,23.6h1.1M-1.1,19.4h1.1M-1.1,15.2h1.1M-1.1,11.0h1.1M-1.1,6.8h1.1M-1.1,2.5h1.1M8.4,36.3v1.2M16.8,36.3v1.2M25.2,36.3v1.2M33.6,36.3v1.2" stroke="#151515" stroke-width="0.7"/></g>
<g transform="translate(389.08,191.68)"><g clip-path="url(#pc)"><g filter="url(#bl)"><rect x="0.60" y="4.70" width="10.80" height="29.60" rx="2.70" fill="#c88098" fill-opacity="0.62"/><ellipse cx="2.5" cy="7" rx="2" ry="2" fill="#e42430" fill-opacity="0.5"/><ellipse cx="7.2" cy="6" rx="3.8" ry="2" fill="#32407e" fill-opacity="0.85"/><ellipse cx="6" cy="10" rx="4.3" ry="1.8" fill="#e06878" fill-opacity="0.5"/><ellipse cx="6.5" cy="14.5" rx="3" ry="2.4" fill="#6a5090" fill-opacity="0.55"/><ellipse cx="7.5" cy="20.4" rx="4" ry="1.8" fill="#a02840" fill-opacity="0.7"/><ellipse cx="12" cy="20.2" rx="1.5" ry="0.9" fill="#e42430" fill-opacity="0.5"/><ellipse cx="5" cy="25.5" rx="3.5" ry="3" fill="#e05868" fill-opacity="0.55"/><ellipse cx="7" cy="31" rx="3.3" ry="3" fill="#2a52a4" fill-opacity="0.85"/></g></g><path d="M0,0 H36.1 V36.3" fill="none" stroke="#808080" stroke-width="0.9"/><line x1="0" y1="-0.4" x2="0" y2="36.9" stroke="#151515" stroke-width="1.25" stroke-dasharray="3.6,0.4"/><line x1="-0.6" y1="36.3" x2="36.5" y2="36.3" stroke="#151515" stroke-width="1.25"/><path d="M-1.1,32.1h1.1M-1.1,27.9h1.1M-1.1,23.6h1.1M-1.1,19.4h1.1M-1.1,15.2h1.1M-1.1,11.0h1.1M-1.1,6.8h1.1M-1.1,2.5h1.1M8.4,36.3v1.2M16.8,36.3v1.2M25.2,36.3v1.2M33.6,36.3v1.2" stroke="#151515" stroke-width="0.7"/></g>
<g transform="translate(434.34,191.68)"><g clip-path="url(#pc)"><g filter="url(#bl)"><rect x="0.60" y="5.00" width="10.40" height="29.20" rx="2.60" fill="#2a52a4" fill-opacity="0.95"/><ellipse cx="3" cy="9" rx="2" ry="3.5" fill="#b8a8d8" fill-opacity="0.5"/><ellipse cx="11" cy="19" rx="1.4" ry="13.5" fill="#b02848" fill-opacity="0.7"/><ellipse cx="11" cy="6" rx="1.5" ry="1.5" fill="#e42430" fill-opacity="0.8"/><ellipse cx="14.5" cy="25.5" rx="3.5" ry="3" fill="#e898a8" fill-opacity="0.4"/></g></g><path d="M0,0 H36.1 V36.3" fill="none" stroke="#808080" stroke-width="0.9"/><line x1="0" y1="-0.4" x2="0" y2="36.9" stroke="#151515" stroke-width="1.25" stroke-dasharray="3.6,0.4"/><line x1="-0.6" y1="36.3" x2="36.5" y2="36.3" stroke="#151515" stroke-width="1.25"/><path d="M-1.1,32.1h1.1M-1.1,27.9h1.1M-1.1,23.6h1.1M-1.1,19.4h1.1M-1.1,15.2h1.1M-1.1,11.0h1.1M-1.1,6.8h1.1M-1.1,2.5h1.1M8.4,36.3v1.2M16.8,36.3v1.2M25.2,36.3v1.2M33.6,36.3v1.2" stroke="#151515" stroke-width="0.7"/></g>
<g transform="translate(479.60,191.68)"><g clip-path="url(#pc)"><g filter="url(#bl)"><rect x="1.30" y="4.60" width="12.00" height="29.20" rx="3.00" fill="#b88098" fill-opacity="0.55"/><ellipse cx="7.5" cy="7.5" rx="4.5" ry="3" fill="#7a4a70" fill-opacity="0.65"/><ellipse cx="7" cy="16" rx="3" ry="4" fill="#8a3a5a" fill-opacity="0.4"/><ellipse cx="12" cy="19" rx="2" ry="12" fill="#f0a080" fill-opacity="0.4"/><ellipse cx="5.8" cy="29.8" rx="4.2" ry="4" fill="#2a52a4" fill-opacity="0.95"/><ellipse cx="11.5" cy="29" rx="2" ry="3.5" fill="#d04050" fill-opacity="0.7"/></g></g><path d="M0,0 H36.1 V36.3" fill="none" stroke="#808080" stroke-width="0.9"/><line x1="0" y1="-0.4" x2="0" y2="36.9" stroke="#151515" stroke-width="1.25" stroke-dasharray="3.6,0.4"/><line x1="-0.6" y1="36.3" x2="36.5" y2="36.3" stroke="#151515" stroke-width="1.25"/><path d="M-1.1,32.1h1.1M-1.1,27.9h1.1M-1.1,23.6h1.1M-1.1,19.4h1.1M-1.1,15.2h1.1M-1.1,11.0h1.1M-1.1,6.8h1.1M-1.1,2.5h1.1M8.4,36.3v1.2M16.8,36.3v1.2M25.2,36.3v1.2M33.6,36.3v1.2" stroke="#151515" stroke-width="0.7"/></g>
<g transform="translate(253.30,237.04)"><g clip-path="url(#pc)"><g filter="url(#bl)"><ellipse cx="7.5" cy="20" rx="3.8" ry="13" fill="#f6ccd4" fill-opacity="0.4"/><ellipse cx="7.8" cy="16.1" rx="3" ry="2.3" fill="#c08090" fill-opacity="0.65"/><ellipse cx="7" cy="32" rx="4.5" ry="3" fill="#32407e" fill-opacity="0.85"/><ellipse cx="31" cy="26.8" rx="5" ry="1.5" fill="#e06048" fill-opacity="0.55" transform="rotate(-15 31 26.8)"/><ellipse cx="24" cy="19" rx="15" ry="16" fill="#f8d0c8" fill-opacity="0.28"/></g><g filter="url(#bl2)"><ellipse cx="7" cy="6.3" rx="4.5" ry="1.3" fill="#5a3060" fill-opacity="0.9"/><ellipse cx="18.8" cy="6.3" rx="5.8" ry="1.2" fill="#d04048" fill-opacity="0.85"/></g></g><path d="M0,0 H36.1 V36.3" fill="none" stroke="#808080" stroke-width="0.9"/><line x1="0" y1="-0.4" x2="0" y2="36.9" stroke="#151515" stroke-width="1.25" stroke-dasharray="3.6,0.4"/><line x1="-0.6" y1="36.3" x2="36.5" y2="36.3" stroke="#151515" stroke-width="1.25"/><path d="M-1.1,32.1h1.1M-1.1,27.9h1.1M-1.1,23.6h1.1M-1.1,19.4h1.1M-1.1,15.2h1.1M-1.1,11.0h1.1M-1.1,6.8h1.1M-1.1,2.5h1.1M8.4,36.3v1.2M16.8,36.3v1.2M25.2,36.3v1.2M33.6,36.3v1.2" stroke="#151515" stroke-width="0.7"/></g>
<g transform="translate(298.56,237.04)"><g clip-path="url(#pc)"><g filter="url(#bl)"><ellipse cx="2.5" cy="19" rx="2" ry="14" fill="#c0c8e8" fill-opacity="0.45"/><ellipse cx="8.5" cy="19" rx="4.2" ry="13.5" fill="#3a68b0" fill-opacity="0.4"/><ellipse cx="19.5" cy="19" rx="6" ry="13.5" fill="#e42430" fill-opacity="0.55"/><ellipse cx="9" cy="7.5" rx="3.5" ry="2.8" fill="#5060a8" fill-opacity="0.65"/><ellipse cx="19.5" cy="7.5" rx="5.5" ry="3.5" fill="#e42430" fill-opacity="0.95"/><ellipse cx="8.5" cy="25" rx="3.6" ry="6" fill="#3060a8" fill-opacity="0.6"/><ellipse cx="20" cy="25" rx="5.3" ry="6" fill="#e42430" fill-opacity="0.7"/></g></g><path d="M0,0 H36.1 V36.3" fill="none" stroke="#808080" stroke-width="0.9"/><line x1="0" y1="-0.4" x2="0" y2="36.9" stroke="#151515" stroke-width="1.25" stroke-dasharray="3.6,0.4"/><line x1="-0.6" y1="36.3" x2="36.5" y2="36.3" stroke="#151515" stroke-width="1.25"/><path d="M-1.1,32.1h1.1M-1.1,27.9h1.1M-1.1,23.6h1.1M-1.1,19.4h1.1M-1.1,15.2h1.1M-1.1,11.0h1.1M-1.1,6.8h1.1M-1.1,2.5h1.1M8.4,36.3v1.2M16.8,36.3v1.2M25.2,36.3v1.2M33.6,36.3v1.2" stroke="#151515" stroke-width="0.7"/></g>
<g transform="translate(253.30,282.40)"><g clip-path="url(#pc)"><g filter="url(#bl)"><ellipse cx="7.5" cy="21" rx="3.8" ry="12" fill="#f6ccd4" fill-opacity="0.4"/><ellipse cx="8" cy="16.4" rx="3.4" ry="2.2" fill="#a08898" fill-opacity="0.7"/><ellipse cx="7" cy="31" rx="4.6" ry="3.8" fill="#d05060" fill-opacity="0.7"/><ellipse cx="24" cy="19" rx="15" ry="17" fill="#f6ccd4" fill-opacity="0.18"/></g><g filter="url(#bl2)"><ellipse cx="18.5" cy="6" rx="4.5" ry="0.9" fill="#f4a080" fill-opacity="0.55"/><ellipse cx="7.4" cy="6" rx="4.9" ry="1.3" fill="#5a3060" fill-opacity="0.95"/></g></g><path d="M0,0 H36.1 V36.3" fill="none" stroke="#808080" stroke-width="0.9"/><line x1="0" y1="-0.4" x2="0" y2="36.9" stroke="#151515" stroke-width="1.25" stroke-dasharray="3.6,0.4"/><line x1="-0.6" y1="36.3" x2="36.5" y2="36.3" stroke="#151515" stroke-width="1.25"/><path d="M-1.1,32.1h1.1M-1.1,27.9h1.1M-1.1,23.6h1.1M-1.1,19.4h1.1M-1.1,15.2h1.1M-1.1,11.0h1.1M-1.1,6.8h1.1M-1.1,2.5h1.1M8.4,36.3v1.2M16.8,36.3v1.2M25.2,36.3v1.2M33.6,36.3v1.2" stroke="#151515" stroke-width="0.7"/></g>
<g transform="translate(298.56,282.40)"><g clip-path="url(#pc)"><g filter="url(#bl)"><ellipse cx="2" cy="7" rx="1.5" ry="3" fill="#c8a8c8" fill-opacity="0.55"/><ellipse cx="7.5" cy="23" rx="4" ry="11" fill="#8a6898" fill-opacity="0.4"/><ellipse cx="23" cy="20" rx="14" ry="17" fill="#f6ccd4" fill-opacity="0.28"/><ellipse cx="8.3" cy="6" rx="4.2" ry="1.8" fill="#2a52a4" fill-opacity="0.95"/><ellipse cx="7.5" cy="13.5" rx="3.7" ry="2" fill="#404888" fill-opacity="0.85"/><ellipse cx="7" cy="28" rx="3.8" ry="5" fill="#6a4a80" fill-opacity="0.65"/></g><g filter="url(#bl2)"><ellipse cx="22" cy="6.2" rx="8.8" ry="1.2" fill="#e42430" fill-opacity="0.95"/><ellipse cx="20" cy="12.8" rx="10" ry="0.7" fill="#f0a090" fill-opacity="0.4"/></g></g><path d="M0,0 H36.1 V36.3" fill="none" stroke="#808080" stroke-width="0.9"/><line x1="0" y1="-0.4" x2="0" y2="36.9" stroke="#151515" stroke-width="1.25" stroke-dasharray="3.6,0.4"/><line x1="-0.6" y1="36.3" x2="36.5" y2="36.3" stroke="#151515" stroke-width="1.25"/><path d="M-1.1,32.1h1.1M-1.1,27.9h1.1M-1.1,23.6h1.1M-1.1,19.4h1.1M-1.1,15.2h1.1M-1.1,11.0h1.1M-1.1,6.8h1.1M-1.1,2.5h1.1M8.4,36.3v1.2M16.8,36.3v1.2M25.2,36.3v1.2M33.6,36.3v1.2" stroke="#151515" stroke-width="0.7"/></g>
<g transform="translate(343.82,282.40)"><g clip-path="url(#pc)"><g filter="url(#bl)"><ellipse cx="5.8" cy="22" rx="4.2" ry="12" fill="#d8a0b0" fill-opacity="0.4"/><ellipse cx="6.5" cy="16.8" rx="4" ry="2" fill="#703048" fill-opacity="0.9"/><ellipse cx="6" cy="30" rx="4" ry="4" fill="#803040" fill-opacity="0.7"/></g><g filter="url(#bl2)"><ellipse cx="5.8" cy="8.7" rx="4.6" ry="1.4" fill="#503050" fill-opacity="0.9"/><ellipse cx="16" cy="8.3" rx="4.5" ry="1.2" fill="#d05040" fill-opacity="0.8"/><ellipse cx="17" cy="17" rx="7" ry="0.8" fill="#f0b0b0" fill-opacity="0.4"/></g></g><path d="M0,0 H36.1 V36.3" fill="none" stroke="#808080" stroke-width="0.9"/><line x1="0" y1="-0.4" x2="0" y2="36.9" stroke="#151515" stroke-width="1.25" stroke-dasharray="3.6,0.4"/><line x1="-0.6" y1="36.3" x2="36.5" y2="36.3" stroke="#151515" stroke-width="1.25"/><path d="M-1.1,32.1h1.1M-1.1,27.9h1.1M-1.1,23.6h1.1M-1.1,19.4h1.1M-1.1,15.2h1.1M-1.1,11.0h1.1M-1.1,6.8h1.1M-1.1,2.5h1.1M8.4,36.3v1.2M16.8,36.3v1.2M25.2,36.3v1.2M33.6,36.3v1.2" stroke="#151515" stroke-width="0.7"/></g>
<g transform="translate(389.08,282.40)"><g clip-path="url(#pc)"><g filter="url(#bl)"><rect x="0.90" y="5.50" width="10.80" height="29.00" rx="2.70" fill="#9070a0" fill-opacity="0.5"/><ellipse cx="3" cy="16" rx="2" ry="6" fill="#e0b0c8" fill-opacity="0.4"/><ellipse cx="6.5" cy="6.5" rx="4.3" ry="2" fill="#3a3a80" fill-opacity="0.9"/><ellipse cx="10.5" cy="17" rx="2" ry="2.5" fill="#7a6098" fill-opacity="0.5"/><ellipse cx="6.5" cy="30.5" rx="4.5" ry="3.5" fill="#404080" fill-opacity="0.8"/><ellipse cx="24" cy="6.8" rx="1.3" ry="1.3" fill="#f4a080" fill-opacity="0.4"/></g></g><path d="M0,0 H36.1 V36.3" fill="none" stroke="#808080" stroke-width="0.9"/><line x1="0" y1="-0.4" x2="0" y2="36.9" stroke="#151515" stroke-width="1.25" stroke-dasharray="3.6,0.4"/><line x1="-0.6" y1="36.3" x2="36.5" y2="36.3" stroke="#151515" stroke-width="1.25"/><path d="M-1.1,32.1h1.1M-1.1,27.9h1.1M-1.1,23.6h1.1M-1.1,19.4h1.1M-1.1,15.2h1.1M-1.1,11.0h1.1M-1.1,6.8h1.1M-1.1,2.5h1.1M8.4,36.3v1.2M16.8,36.3v1.2M25.2,36.3v1.2M33.6,36.3v1.2" stroke="#151515" stroke-width="0.7"/></g>
<g transform="translate(434.34,282.40)"><g clip-path="url(#pc)"><g filter="url(#bl)"><rect x="0.60" y="5.20" width="11.20" height="11.60" rx="2.80" fill="#2a52a4" fill-opacity="0.95"/><ellipse cx="9.5" cy="5.8" rx="3" ry="1.5" fill="#2a52a4" fill-opacity="0.9"/><ellipse cx="13.5" cy="8" rx="3.5" ry="3" fill="#e0a0b8" fill-opacity="0.45"/><ellipse cx="6.5" cy="25.5" rx="6" ry="9" fill="#9070a0" fill-opacity="0.45"/><ellipse cx="12" cy="22" rx="4" ry="6" fill="#e0b0c0" fill-opacity="0.3"/></g></g><path d="M0,0 H36.1 V36.3" fill="none" stroke="#808080" stroke-width="0.9"/><line x1="0" y1="-0.4" x2="0" y2="36.9" stroke="#151515" stroke-width="1.25" stroke-dasharray="3.6,0.4"/><line x1="-0.6" y1="36.3" x2="36.5" y2="36.3" stroke="#151515" stroke-width="1.25"/><path d="M-1.1,32.1h1.1M-1.1,27.9h1.1M-1.1,23.6h1.1M-1.1,19.4h1.1M-1.1,15.2h1.1M-1.1,11.0h1.1M-1.1,6.8h1.1M-1.1,2.5h1.1M8.4,36.3v1.2M16.8,36.3v1.2M25.2,36.3v1.2M33.6,36.3v1.2" stroke="#151515" stroke-width="0.7"/></g>
<g transform="translate(479.60,282.40)"><g clip-path="url(#pc)"><g filter="url(#bl)"><rect x="0.70" y="5.80" width="8.60" height="13.00" rx="2.15" fill="#2a52a4" fill-opacity="0.95"/><rect x="0.70" y="25.50" width="8.60" height="9.00" rx="2.15" fill="#2a52a4" fill-opacity="0.95"/><ellipse cx="5" cy="21.5" rx="4" ry="3.5" fill="#9080b0" fill-opacity="0.5"/><ellipse cx="12.5" cy="10" rx="3.2" ry="4.5" fill="#e42430" fill-opacity="0.85"/><ellipse cx="16" cy="8" rx="2.5" ry="2.5" fill="#f09090" fill-opacity="0.35"/><ellipse cx="11.8" cy="29.5" rx="2.2" ry="3.5" fill="#e42430" fill-opacity="0.8"/><ellipse cx="12.5" cy="21" rx="3" ry="5" fill="#f0a0a0" fill-opacity="0.4"/></g></g><path d="M0,0 H36.1 V36.3" fill="none" stroke="#808080" stroke-width="0.9"/><line x1="0" y1="-0.4" x2="0" y2="36.9" stroke="#151515" stroke-width="1.25" stroke-dasharray="3.6,0.4"/><line x1="-0.6" y1="36.3" x2="36.5" y2="36.3" stroke="#151515" stroke-width="1.25"/><path d="M-1.1,32.1h1.1M-1.1,27.9h1.1M-1.1,23.6h1.1M-1.1,19.4h1.1M-1.1,15.2h1.1M-1.1,11.0h1.1M-1.1,6.8h1.1M-1.1,2.5h1.1M8.4,36.3v1.2M16.8,36.3v1.2M25.2,36.3v1.2M33.6,36.3v1.2" stroke="#151515" stroke-width="0.7"/></g>
</g>
</svg>
</body></html>
